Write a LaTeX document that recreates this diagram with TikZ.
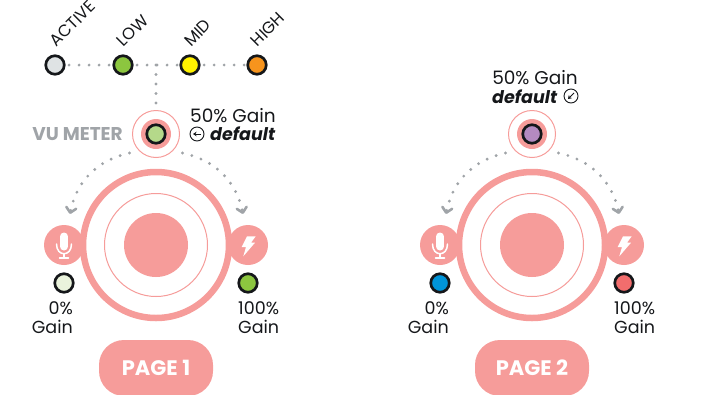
\documentclass[tikz,border=0pt]{standalone}
\usepackage{fontspec}
\setmainfont{Poppins}
\usetikzlibrary{arrows.meta,calc}
\definecolor{salmon}{HTML}{F69C9A}
\definecolor{dotgray}{HTML}{A0A4A8}
\definecolor{inkblack}{HTML}{15171A}
\definecolor{ledgrey}{HTML}{DFE3E4}
\definecolor{ledgreen}{HTML}{8CC63F}
\definecolor{ledyellow}{HTML}{FFF200}
\definecolor{ledorange}{HTML}{F7941D}
\definecolor{ledsoft}{HTML}{B5D98A}
\definecolor{ledpale}{HTML}{EAF3DC}
\definecolor{ledviolet}{HTML}{B48AC0}
\definecolor{ledblue}{HTML}{0095DA}
\definecolor{ledred}{HTML}{F26D6D}
\tikzset{
  led/.style={circle,draw=inkblack,line width=2.7pt,minimum size=18.5pt,inner sep=0pt},
  sidepad/.style={circle,fill=salmon,minimum size=40pt,inner sep=0pt},
  dotline/.style={dotgray,line width=3.2pt,line cap=round,dash pattern=on 0pt off 10pt,dash phase=6.5pt},
  chevline/.style={dotgray,line width=3.2pt,line cap=round,dash pattern=on 0pt off 9.7pt,
    -{Straight Barb[length=5pt,width=10pt,line width=2.6pt,round]}},
  txt/.style={inner sep=0pt,font=\fontsize{17.5}{19}\selectfont,text=inkblack},
  gaintxt/.style={txt,font=\fontsize{18.5}{19}\selectfont},
  ledname/.style={txt,rotate=45,anchor=south west,font=\fontsize{16.5}{18}\selectfont},
  pagepill/.style={fill=salmon,rounded corners=25pt,minimum width=114pt,minimum height=56pt,
    text=white,font=\fontsize{21}{24}\bfseries\selectfont},
  whiteicon/.style={white,line width=1.5pt,line cap=round},
  roundicon/.style={circle,draw=inkblack,line width=0.9pt,minimum size=14pt,inner sep=0pt},
  smallarrow/.style={inkblack,line width=0.9pt,-{Stealth[length=3.5pt,width=4.5pt]}},
  boldtxt/.style={txt,anchor=west,font=\fontsize{17.5}{19}\bfseries\itshape\selectfont},
}
% one dial with its pads, leds and arcs
\newcommand{\dialpage}[5]{%
  \begin{scope}[shift={(#1,0)}]
  \node[sidepad] (pad#2l) at (64,245) {};
  \node[sidepad] (pad#2r) at (248,245) {};
  \node[circle,draw=salmon,fill=white,line width=6.5pt,minimum size=146pt,inner sep=0pt,outer sep=0pt] (dial#2) at (156,245) {};
  \node[circle,draw=salmon,line width=1pt,minimum size=103pt,inner sep=0pt] (ring#2) at (dial#2) {};
  \node[circle,fill=salmon,minimum size=64pt,inner sep=0pt] (hub#2) at (dial#2) {};
  % vu meter
  \node[circle,draw=salmon,line width=1pt,minimum size=47pt,inner sep=0pt] (vuring#2) at (156,134) {};
  \node[circle,fill=salmon,minimum size=30pt,inner sep=0pt] (vupad#2) at (vuring#2) {};
  \node[led,fill=#3] (vu#2) at (vuring#2) {};
  % leds under the pads
  \node[led,fill=#4] (zero#2) at (64,283) {};
  \node[led,fill=#5] (full#2) at (248,283) {};
  \node[txt,align=right,anchor=north east] (zerotxt#2) at (73,301) {0\%\\Gain};
  \node[txt,align=left,anchor=north west] (fulltxt#2) at (238,301) {100\%\\Gain};
  % arcs
  \coordinate (la#2) at (129.5,153);
  \coordinate (lb#2) at (70,214);
  \coordinate (ra#2) at (182.5,153);
  \coordinate (rb#2) at (243,214);
  \draw[chevline] (la#2) to[bend right=33] (lb#2);
  \draw[chevline] (ra#2) to[bend left=33] (rb#2);
  % mic
  \draw[white,line width=8pt,line cap=round] ($(pad#2l)+(0,-8.5)$) -- ($(pad#2l)+(0,1.5)$);
  \draw[whiteicon] ($(pad#2l)+(-7.5,-1)$) .. controls ($(pad#2l)+(-7.5,12)$) and ($(pad#2l)+(7.5,12)$) .. ($(pad#2l)+(7.5,-1)$);
  \draw[whiteicon] ($(pad#2l)+(0,9)$) -- ($(pad#2l)+(0,13)$);
  \draw[whiteicon] ($(pad#2l)+(-4.5,13)$) -- ($(pad#2l)+(4.5,13)$);
  % bolt
  \fill[white] ($(pad#2r)+(-1,-8.7)$) -- ($(pad#2r)+(7.7,-8.7)$) -- ($(pad#2r)+(3,-2.3)$) -- ($(pad#2r)+(7,-2.3)$)
    -- ($(pad#2r)+(-4.7,11.3)$) -- ($(pad#2r)+(-2,2)$) -- ($(pad#2r)+(-6.3,2)$) -- cycle;
  \node[pagepill] (page#2) at (156,368) {PAGE #2};
  \end{scope}
}
\begin{document}
\begin{tikzpicture}[x=1pt,y=-1pt]
\useasboundingbox (0,0) rectangle (703,394);
\dialpage{0}{1}{ledsoft}{ledpale}{ledgreen}
\dialpage{376}{2}{ledviolet}{ledblue}{ledred}

% led row
\node[led,fill=ledgrey] (active) at (55,65) {};
\node[led,fill=ledgreen] (low) at (123,65) {};
\node[led,fill=ledyellow] (mid) at (190,65) {};
\node[led,fill=ledorange] (high) at (257,65) {};
\draw[dotline] (active) -- (low);
\draw[dotline] (low) -- (mid);
\draw[dotline] (mid) -- (high);
\coordinate (junction) at (156,65);
\draw[dotline,dash pattern=on 0pt off 9.5pt,dash phase=0pt] (junction) -- (vuring1.north);
\node[ledname] (activetxt) at (57,48) {ACTIVE};
\node[ledname] (lowtxt) at (124,48) {LOW};
\node[ledname] (midtxt) at (191,48) {MID};
\node[ledname] (hightxt) at (258,48) {HIGH};

% labels page 1
\node[txt,text=dotgray,font=\fontsize{18.5}{20}\bfseries\selectfont,anchor=east] (vumeter) at (123,134) {VU METER};
\node[gaintxt,anchor=west] (gain1) at (190,116) {50\% Gain};
\node[roundicon] (back1) at (197,134) {};
\coordinate (backa1) at (201,134);
\coordinate (backb1) at (193,134);
\draw[smallarrow] (backa1) -- (backb1);
\node[boldtxt] (def1) at (210,134) {default};
% labels page 2
\node[gaintxt] (gain2) at (535,78) {50\% Gain};
\node[boldtxt] (def2) at (492,97) {default};
\node[roundicon] (back2) at (571,96) {};
\coordinate (backa2) at (574,93);
\coordinate (backb2) at (568,99);
\draw[smallarrow] (backa2) -- (backb2);
\end{tikzpicture}
\end{document}
